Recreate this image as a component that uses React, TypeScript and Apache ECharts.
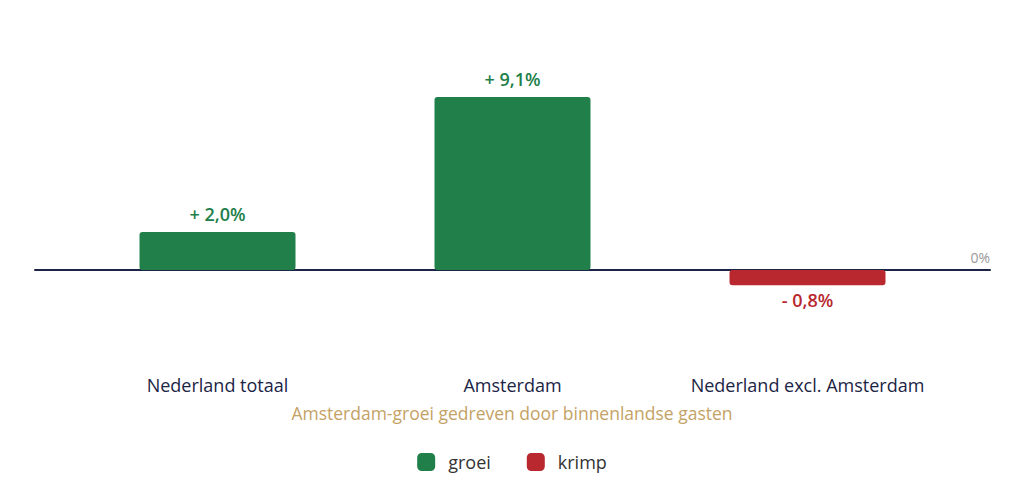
import React, { useEffect, useRef } from "react";
import * as echarts from "echarts";

const categories = ["Nederland totaal", "Amsterdam", "Nederland excl. Amsterdam"];
const groei = [2.0, 9.1, null];
const krimp = [null, null, -0.8];
const subtitle = "Amsterdam-groei gedreven door binnenlandse gasten";

const GREEN = "#21804a";
const RED = "#b8282e";
const NAVY = "#1c2545";
const FONT = "'Open Sans', Lato, sans-serif";

const fmt = (v: number) =>
  (v >= 0 ? "+ " : "- ") + Math.abs(v).toFixed(1).replace(".", ",") + "%";

const App: React.FC = () => {
  const chartRef = useRef<HTMLDivElement>(null);

  useEffect(() => {
    document.body.style.margin = "0";
    if (!chartRef.current) return;
    const chart = echarts.init(chartRef.current, null, { renderer: "svg" });

    const grid = { top: 80, bottom: 119 };

    chart.setOption({
      animation: false,
      textStyle: { fontFamily: FONT },
      title: {
        text: subtitle,
        left: "center",
        top: 399,
        textStyle: { color: "#c4a266", fontSize: 17.5, fontWeight: 500, fontFamily: FONT },
      },
      legend: {
        data: ["groei", "krimp"],
        bottom: 8,
        left: "center",
        icon: "roundRect",
        itemWidth: 18,
        itemHeight: 18,
        itemGap: 36,
        textStyle: { fontSize: 18, color: "#333", fontFamily: FONT, padding: [0, 0, 0, 8] },
      },
      grid: [
        { left: 70, right: 69, ...grid },
        { left: 35, right: 34, ...grid },
      ],
      xAxis: [
        {
          type: "category",
          data: categories,
          axisLine: { onZero: false, show: false },
          axisTick: { show: false },
          axisLabel: { color: NAVY, fontSize: 18, margin: 11, interval: 0, fontFamily: FONT },
        },
        {
          type: "value",
          gridIndex: 1,
          min: 0,
          max: 1,
          axisLine: { show: true, onZero: true, lineStyle: { color: NAVY, width: 2 } },
          axisTick: { show: false },
          axisLabel: { show: false },
          splitLine: { show: false },
        },
      ],
      yAxis: [
        { type: "value", min: -5, max: 10, show: false },
        { type: "value", gridIndex: 1, min: -5, max: 10, show: false },
      ],
      graphic: [
        {
          type: "text",
          right: 34,
          top: 250,
          style: { text: "0%", fill: "#999", fontSize: 14, fontFamily: FONT },
        },
      ],
      series: [
        {
          name: "groei",
          type: "bar",
          stack: "total",
          data: groei,
          barWidth: 156,
          itemStyle: { color: GREEN, borderRadius: 3 },
          label: {
            show: true,
            position: "top",
            distance: 9,
            color: GREEN,
            fontSize: 18,
            fontWeight: 600,
            fontFamily: FONT,
            formatter: (p: any) => fmt(p.value),
          },
        },
        {
          name: "krimp",
          type: "bar",
          stack: "total",
          data: krimp,
          barWidth: 156,
          itemStyle: { color: RED, borderRadius: 3 },
          label: {
            show: true,
            position: "bottom",
            distance: 6,
            color: RED,
            fontSize: 18,
            fontWeight: 600,
            fontFamily: FONT,
            formatter: (p: any) => fmt(p.value),
          },
        },
        {
          type: "line",
          xAxisIndex: 1,
          yAxisIndex: 1,
          data: [],
          silent: true,
        },
      ],
    });

    return () => chart.dispose();
  }, []);

  return <div ref={chartRef} style={{ width: 1024, height: 484 }} />;
};

export default App;
